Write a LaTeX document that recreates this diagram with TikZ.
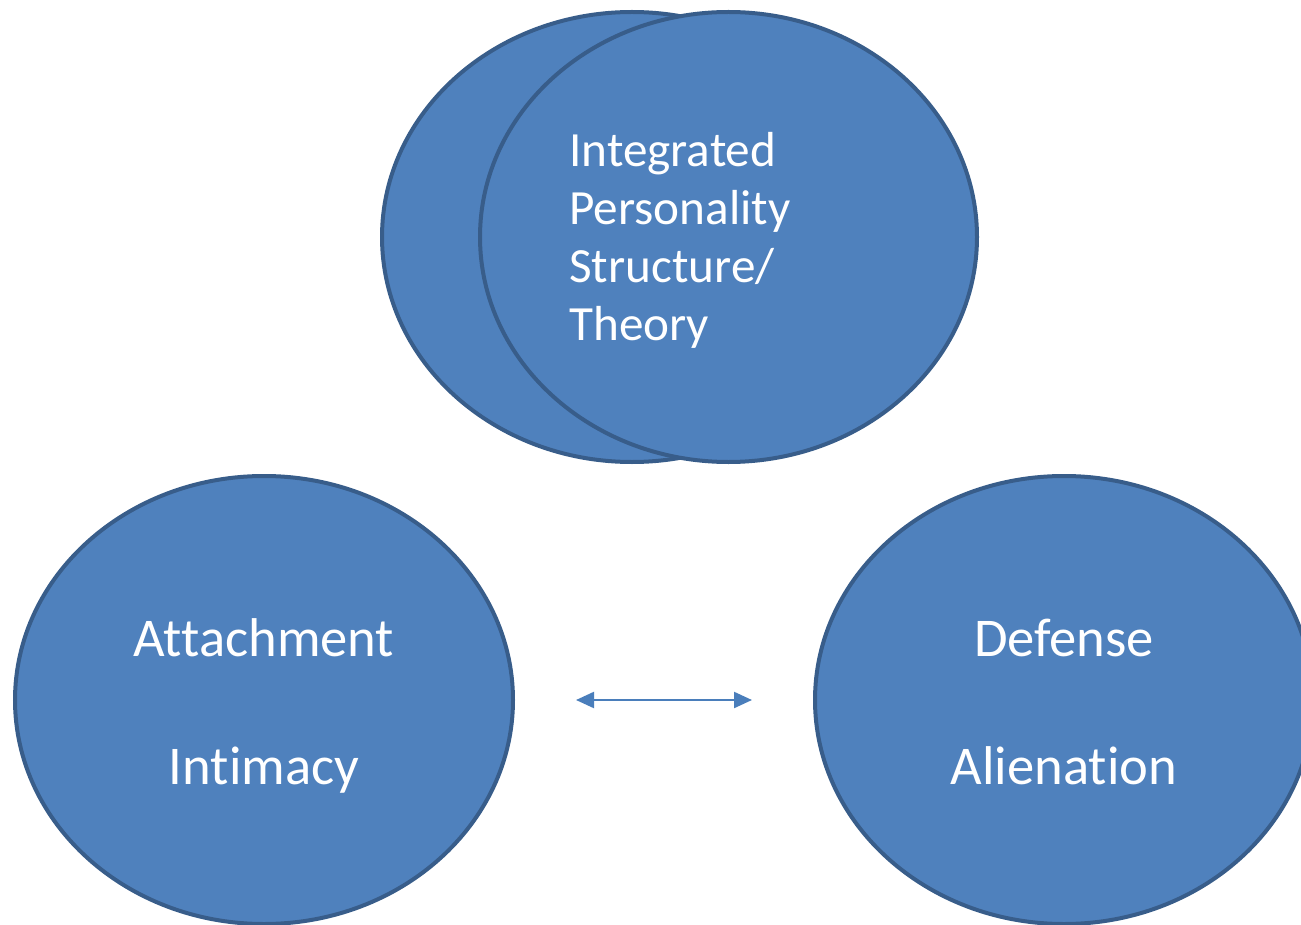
\documentclass[tikz,border=0pt]{standalone}
\usepackage{fontspec}
\setmainfont{Carlito}[Ligatures=NoCommon]
\usepackage{xcolor}
\definecolor{ovalFill}{HTML}{4F81BD}
\definecolor{ovalEdge}{HTML}{385D8A}
\definecolor{arrowBlue}{HTML}{4A7EBB}
\usetikzlibrary{shapes.geometric,positioning,arrows.meta}
\newcommand{\topgap}{\rule{0pt}{26pt}}
\newcommand{\botgap}{\rule[-6pt]{0pt}{6pt}}
\tikzset{%
  ovalBox/.style={%
    ellipse,
    draw=ovalEdge,
    fill=ovalFill,
    line width=2pt,
    inner sep=0pt,
    minimum width=249pt,
    minimum height=224pt,
    text=white,
    align=center,
    font=\fontsize{27.3}{32}\selectfont
  },
  theoryText/.style={%
    text=white,
    align=left,
    inner sep=0pt,
    font=\fontsize{24.6}{29}\selectfont
  },
  bothArrow/.style={%
    {Triangle[length=9pt,width=8pt]}-{Triangle[length=9pt,width=8pt]},
    line width=1.1pt,
    color=arrowBlue
  }
}

\begin{document}
\begin{tikzpicture}[x=0.5pt,y=-0.5pt]
  \useasboundingbox (0,0) rectangle (1301,925);

  % top pair of ovals
  \node[ovalBox, minimum width=250pt, minimum height=225pt] (theoryBack) at (632,237) {};
  \node[ovalBox, minimum width=248.5pt, minimum height=225pt] (theoryFront) at (728.5,237) {};
  \node[theoryText, xshift=-24.3pt, yshift=-1.5pt] (theory) at (theoryFront.center)
    {Integrated\\Personality\\Structure/\\Theory};

  % bottom ovals
  \node[ovalBox] (attach) at (264,700) {\topgap Attachment\\[32pt]Intimacy\botgap};
  \node[ovalBox, right=149pt of attach] (defense) {\topgap Defense\\[32pt]Alienation\botgap};

  \draw[bothArrow, shorten <=30.5pt, shorten >=30.5pt] (attach.east) -- (defense.west);
\end{tikzpicture}
\end{document}
